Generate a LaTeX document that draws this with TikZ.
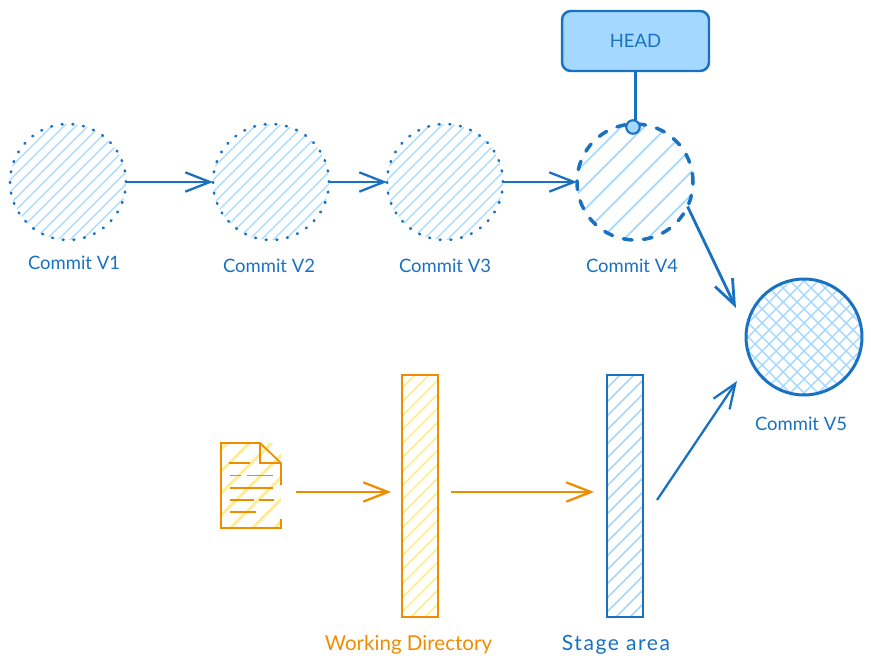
\documentclass[tikz,border=0pt]{standalone}
\usepackage{fontspec}
\setmainfont{Lato}
\usetikzlibrary{arrows.meta}
\definecolor{inkblue}{HTML}{1971C2}
\definecolor{paleblue}{HTML}{A5D8FF}
\definecolor{inkorange}{HTML}{F08C00}
\definecolor{paleyellow}{HTML}{FFEC99}
\tikzset{
	hatch/.style n args={3}{path picture={
		\foreach \s in {-30,...,30}{
			\draw[#1,solid,line width=#3] ([shift={(\s*#2-300,300)}]path picture bounding box.center) -- ([shift={(\s*#2+300,-300)}]path picture bounding box.center);
		}
	}},
	crosshatch/.style n args={3}{path picture={
		\foreach \s in {-30,...,30}{
			\draw[#1,solid,line width=#3] ([shift={(\s*#2-300,300)}]path picture bounding box.center) -- ([shift={(\s*#2+300,-300)}]path picture bounding box.center);
			\draw[#1,solid,line width=#3] ([shift={(\s*#2-300,-300)}]path picture bounding box.center) -- ([shift={(\s*#2+300,300)}]path picture bounding box.center);
		}
	}},
	commit/.style={circle,draw=inkblue,inner sep=0pt,outer sep=0pt,minimum size=2.32cm},
	olddot/.style={commit,line width=1.5pt,line cap=round,dash pattern=on 0.5pt off 5.6pt,hatch={paleblue}{12}{0.7pt}},
	bar/.style={rectangle,inner sep=0pt,outer sep=0pt,minimum width=0.72cm,minimum height=4.84cm,line width=1.1pt},
	flow/.style={line width=1.3pt,-{Straight Barb[length=14pt,width=11pt]}},
	lbl/.style={font=\fontsize{10.5}{12}\selectfont,text=inkblue,inner sep=0pt},
}
\begin{document}
\begin{tikzpicture}[x=0.02cm,y=-0.02cm]
	\useasboundingbox (0,0) rectangle (871,668);

	% commits
	\node [olddot] (v1) at (68,182) {};
	\node [olddot] (v2) at (271,182) {};
	\node [olddot] (v3) at (445,182) {};
	\node [commit,line width=2pt,line cap=round,dash pattern=on 5pt off 6.45pt,hatch={paleblue}{23}{1pt}] (v4) at (635,182) {};
	\node [commit,line width=1.7pt,crosshatch={paleblue}{14}{0.8pt}] (v5) at (804,337) {};

	\node [lbl] (v1lbl) at (74,263) {Commit V1};
	\node [lbl] (v2lbl) at (269,266) {Commit V2};
	\node [lbl] (v3lbl) at (445,266) {Commit V3};
	\node [lbl] (v4lbl) at (632,266) {Commit V4};
	\node [lbl] (v5lbl) at (801,424) {Commit V5};

	% head pointer
	\node [rectangle,draw=inkblue,fill=paleblue,line width=1.4pt,rounded corners=5pt,inner sep=0pt,outer sep=0pt,minimum width=2.94cm,minimum height=1.2cm,lbl] (head) at (635.5,41) {HEAD};
	\node [circle,draw=inkblue,fill=paleblue,line width=1.2pt,inner sep=0pt,outer sep=0pt,minimum size=0.27cm] (headdot) at (633,127) {};
	\draw [inkblue,line width=1.2pt] (head.south) -- (head.south |- headdot.north);

	% working tree and index
	\node [bar,draw=inkorange,hatch={paleyellow}{14}{0.9pt}] (wd) at (420,496) {};
	\node [bar,draw=inkblue,hatch={paleblue}{14}{0.9pt}] (stage) at (625,496) {};
	\node [lbl,text=inkorange,font=\fontsize{11.7}{13}\selectfont] (wdlbl) at (408.5,645) {Working Directory};
	\node [lbl,font=\fontsize{12}{13}\selectfont\addfontfeatures{LetterSpace=7.5}] (stagelbl) at (616,645) {Stage area};

	% file icon
	\node [rectangle,inner sep=0pt,outer sep=0pt,minimum width=1.2cm,minimum height=1.7cm,hatch={paleyellow}{22}{1.8pt}] (file) at (251,485.5) {};
	\draw [inkorange,line width=1pt] (281,485) -- (281,463) -- (260,443) -- (221,443) -- (221,528) -- (281,528) -- (281,519);
	\draw [inkorange,line width=1pt] (260,443) -- (260,463) -- (281,463);
	\foreach \y/\a/\b in {463/229/250, 475.5/230/241, 475.5/247/273, 488/230/273, 500/230/254, 500/259/274, 512/230/256}{
		\draw [inkorange,line width=1pt] (\a,\y) -- (\b,\y);
	}

	% free ends of the connectors
	\coordinate (fileout) at (296,492);
	\coordinate (wdin) at (391,492);
	\coordinate (wdout) at (451,492);
	\coordinate (stagein) at (594,492);
	\coordinate (stageout) at (657,500);
	\coordinate (v5top) at (736,308);
	\coordinate (v5low) at (737,381);

	\draw [flow,inkblue] (v1.east) -- (v2.west);
	\draw [flow,inkblue] (v2.east) -- (v3.west);
	\draw [flow,inkblue] (v3.east) -- (v4.west);
	\draw [flow,inkblue,line width=1.6pt] (v4.335) -- (v5top);
	\draw [flow,inkblue] (stageout) -- (v5low);
	\draw [flow,inkorange] (fileout) -- (wdin);
	\draw [flow,inkorange] (wdout) -- (stagein);
\end{tikzpicture}
\end{document}
